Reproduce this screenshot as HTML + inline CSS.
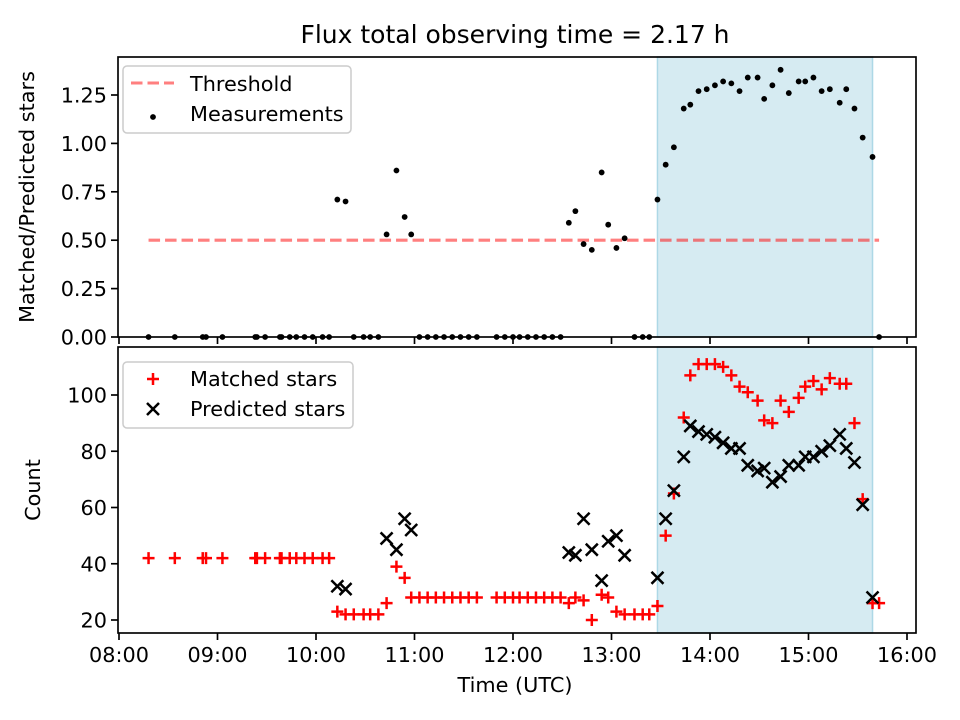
<!DOCTYPE html>
<html><head><meta charset="utf-8"><style>
html,body{margin:0;padding:0;background:#fff;}
svg{display:block;font-family:"DejaVu Sans","Liberation Sans",sans-serif;}
</style></head><body>
<svg id="fig" width="960" height="720" viewBox="0 0 960 720"></svg>
<script>
const times = ["08:18","08:34","08:51","08:53","09:03","09:23","09:24","09:29","09:38","09:39","09:44","09:48","09:53","09:58","10:04","10:08","10:13","10:18","10:23","10:29","10:33","10:38","10:43","10:49","10:54","10:58","11:03","11:08","11:13","11:18","11:23","11:28","11:33","11:38","11:50","11:55","12:00","12:04","12:09","12:14","12:19","12:24","12:29","12:34","12:38","12:43","12:48","12:54","12:58","13:03","13:08","13:14","13:19","13:23","13:28","13:33","13:38","13:44","13:48","13:53","13:58","14:03","14:08","14:13","14:18","14:23","14:29","14:33","14:38","14:43","14:48","14:54","14:58","15:03","15:08","15:13","15:19","15:23","15:28","15:33","15:39","15:43"];
const ratio = [0,0,0,0,0,0,0,0,0,0,0,0,0,0,0,0,0.71,0.70,0,0,0,0,0.53,0.86,0.62,0.53,0,0,0,0,0,0,0,0,0,0,0,0,0,0,0,0,0,0.59,0.65,0.48,0.45,0.85,0.58,0.46,0.51,0,0,0,0.71,0.89,0.98,1.18,1.20,1.27,1.28,1.30,1.32,1.31,1.27,1.34,1.34,1.23,1.30,1.38,1.26,1.32,1.32,1.34,1.27,1.28,1.21,1.28,1.18,1.03,0.93,0];
const matched = [42,42,42,42,42,42,42,42,42,42,42,42,42,42,42,42,23,22,22,22,22,22,26,39,35,28,28,28,28,28,28,28,28,28,28,28,28,28,28,28,28,28,28,26,28,27,20,29,28,23,22,22,22,22,25,50,65,92,107,111,111,111,110,107,103,101,98,91,90,98,94,99,103,105,102,106,104,104,90,63,26,26];
const predicted = [null,null,null,null,null,null,null,null,null,null,null,null,null,null,null,null,32,31,null,null,null,null,49,45,56,52,null,null,null,null,null,null,null,null,null,null,null,null,null,null,null,null,null,44,43,56,45,34,48,50,43,null,null,null,35,56,66,78,89,87,86,85,83,81,81,75,73,74,69,71,75,75,78,78,80,82,86,81,76,61,28,null];
const threshold = 0.5;
const obsStart = "13:28", obsEnd = "15:39";
const xTicks = ["08:00","09:00","10:00","11:00","12:00","13:00","14:00","15:00","16:00"];
const topTicks = [0,0.25,0.5,0.75,1.0,1.25];
const botTicks = [20,40,60,80,100];

const NS="http://www.w3.org/2000/svg";
const svg=document.getElementById('fig');
function mk(tag,attrs,parent){const e=document.createElementNS(NS,tag);for(const k in attrs)e.setAttribute(k,attrs[k]);(parent||svg).appendChild(e);return e;}
function mins(s){const p=s.split(':');return (+p[0]-8)*60+(+p[1]);}
const L=118,R=916,T1=57,B1=337,T2=347,B2=633;
function X(s){return 119+mins(s)/60*98.5;}
function Y1(v){return 337-v*193.6;}
function Y2(v){return 620-(v-20)*2.8125;}

let t=mk('text',{x:515,y:43,'text-anchor':'middle','font-size':25,fill:'#000'});t.textContent='Flux total observing time = 2.17 h';



function panel(top,bot,name){
  const g=mk('g',{});
  
  
  const sx=X(obsStart),ex=X(obsEnd);
  const sh=mk('rect',{x:sx,y:top,width:ex-sx,height:bot-top,fill:'#add8e6','fill-opacity':0.5,stroke:'#add8e6','stroke-width':1.5},g);
  
  
  return g;
}
function frame(g,top,bot){
  mk('rect',{x:L,y:top,width:R-L,height:bot-top,fill:'none',stroke:'#000','stroke-width':1.67},g);
  xTicks.forEach(s=>{mk('line',{x1:X(s),x2:X(s),y1:bot,y2:bot+7,stroke:'#000','stroke-width':1.67},g);});
}

const g1=panel(T1,B1,'ratio-panel');
const th=mk('line',{x1:X(times[0]),x2:X(times[times.length-1]),y1:Y1(threshold),y2:Y1(threshold),stroke:'#ff0000','stroke-opacity':0.5,'stroke-width':3.1,'stroke-dasharray':'11.5,5'},g1);


times.forEach((s,i)=>{
  const c=mk('circle',{cx:X(s),cy:Y1(ratio[i]),r:2.9,fill:'#000'},g1);
  
  
});
frame(g1,T1,B1);
topTicks.forEach(v=>{
  mk('line',{x1:L,x2:L-7,y1:Y1(v),y2:Y1(v),stroke:'#000','stroke-width':1.67},g1);
  const tx=mk('text',{x:L-11,y:Y1(v)+7.5,'text-anchor':'end','font-size':20.8},g1);tx.textContent=v.toFixed(2);
  
  
});
let yl=mk('text',{transform:'translate(34,197) rotate(-90)','text-anchor':'middle','font-size':20.8},g1);yl.textContent='Matched/Predicted stars';


const lg1=mk('g',{},g1);


mk('rect',{x:123,y:66,width:228,height:67,rx:4,fill:'#fff','fill-opacity':0.8,stroke:'#ccc','stroke-width':1.5},lg1);
mk('line',{x1:131,x2:174,y1:83,y2:83,stroke:'#ff0000','stroke-opacity':0.5,'stroke-width':3.1,'stroke-dasharray':'11.5,5'},lg1);
let l1=mk('text',{x:190,y:91,'font-size':20.8},lg1);l1.textContent='Threshold';
mk('circle',{cx:153,cy:117,r:2.9,fill:'#000'},lg1);
let l2=mk('text',{x:190,y:121,'font-size':20.8},lg1);l2.textContent='Measurements';

const g2=panel(T2,B2,'count-panel');
times.forEach((s,i)=>{
  const x=X(s),y=Y2(matched[i]);
  const p=mk('path',{d:`M${x-6},${y}H${x+6}M${x},${y-6}V${y+6}`,stroke:'#ff0000','stroke-width':2.5,fill:'none'},g2);
  
  
});
times.forEach((s,i)=>{
  if(predicted[i]===null)return;
  const x=X(s),y=Y2(predicted[i]);
  const p=mk('path',{d:`M${x-6},${y-6}L${x+6},${y+6}M${x-6},${y+6}L${x+6},${y-6}`,stroke:'#000','stroke-width':2.5,fill:'none'},g2);
  
  
});
frame(g2,T2,B2);
botTicks.forEach(v=>{
  mk('line',{x1:L,x2:L-7,y1:Y2(v),y2:Y2(v),stroke:'#000','stroke-width':1.67},g2);
  const tx=mk('text',{x:L-11,y:Y2(v)+7.5,'text-anchor':'end','font-size':20.8},g2);tx.textContent=v;
  
  
});
xTicks.forEach(s=>{
  const tx=mk('text',{x:X(s),y:662,'text-anchor':'middle','font-size':20.8},g2);tx.textContent=s;
  
  
});
let yl2=mk('text',{transform:'translate(40,490) rotate(-90)','text-anchor':'middle','font-size':20.8},g2);yl2.textContent='Count';


let xl=mk('text',{x:515,y:692,'text-anchor':'middle','font-size':20.8},g2);xl.textContent='Time (UTC)';


const lg2=mk('g',{},g2);


mk('rect',{x:123,y:362,width:230,height:66,rx:4,fill:'#fff','fill-opacity':0.8,stroke:'#ccc','stroke-width':1.5},lg2);
mk('path',{d:'M147,379H159M153,373V385',stroke:'#ff0000','stroke-width':2.5},lg2);
let l3=mk('text',{x:190,y:386,'font-size':20.8},lg2);l3.textContent='Matched stars';
mk('path',{d:'M147,403L159,415M147,415L159,403',stroke:'#000','stroke-width':2.5},lg2);
let l4=mk('text',{x:190,y:416,'font-size':20.8},lg2);l4.textContent='Predicted stars';
</script>
</body></html>
